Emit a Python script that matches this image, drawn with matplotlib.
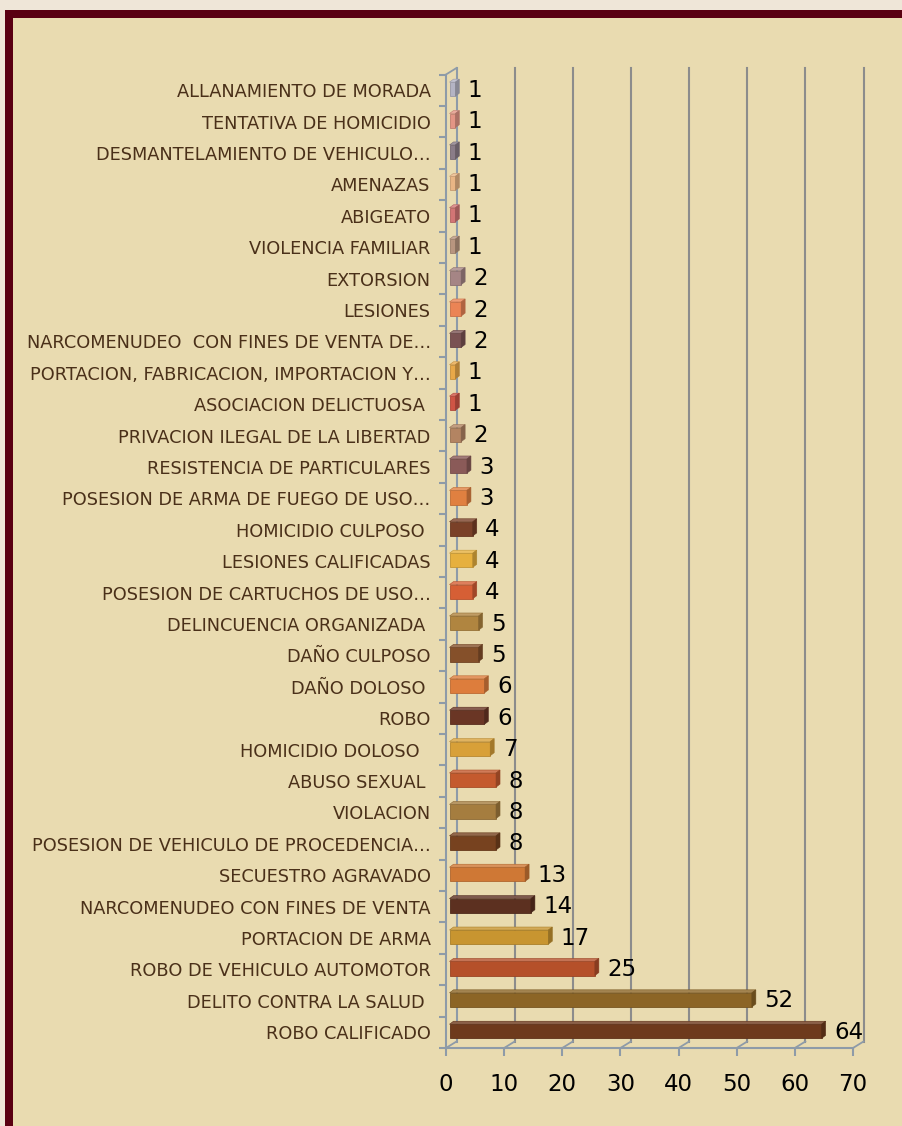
import matplotlib
matplotlib.use("Agg")
import matplotlib.pyplot as plt
from matplotlib.patches import Polygon, Rectangle
from matplotlib.lines import Line2D
import matplotlib.colors as mcolors

# ---------------- data (bottom -> top) ----------------
categories = [
    "ROBO CALIFICADO",
    "DELITO CONTRA LA SALUD ",
    "ROBO DE VEHICULO AUTOMOTOR",
    "PORTACION DE ARMA",
    "NARCOMENUDEO CON FINES DE VENTA",
    "SECUESTRO AGRAVADO",
    "POSESION DE VEHICULO DE PROCEDENCIA…",
    "VIOLACION",
    "ABUSO SEXUAL ",
    "HOMICIDIO DOLOSO  ",
    "ROBO",
    "DAÑO DOLOSO ",
    "DAÑO CULPOSO",
    "DELINCUENCIA ORGANIZADA ",
    "POSESION DE CARTUCHOS DE USO…",
    "LESIONES CALIFICADAS",
    "HOMICIDIO CULPOSO ",
    "POSESION DE ARMA DE FUEGO DE USO…",
    "RESISTENCIA DE PARTICULARES",
    "PRIVACION ILEGAL DE LA LIBERTAD",
    "ASOCIACION DELICTUOSA ",
    "PORTACION, FABRICACION, IMPORTACION Y…",
    "NARCOMENUDEO  CON FINES DE VENTA DE…",
    "LESIONES",
    "EXTORSION",
    "VIOLENCIA FAMILIAR",
    "ABIGEATO",
    "AMENAZAS",
    "DESMANTELAMIENTO DE VEHICULO…",
    "TENTATIVA DE HOMICIDIO",
    "ALLANAMIENTO DE MORADA",
]
values = [64, 52, 25, 17, 14, 13, 8, 8, 8, 7, 6, 6, 5, 5, 4, 4, 4, 3, 3, 2,
          1, 1, 2, 2, 2, 1, 1, 1, 1, 1, 1]
bar_colors = [
    "#6E3A1C", "#8C6526", "#B5502A", "#C89530", "#5C3020", "#CF7835",
    "#77421F", "#A57D3F", "#C45A2E", "#D8A038", "#6A3625", "#DD7D3C",
    "#85502A", "#B08540", "#D65F35", "#E6B03E", "#7A4128", "#E08040",
    "#8A5A58", "#B38462", "#CF5445", "#E8A848", "#7A5252", "#EB8455",
    "#A58585", "#B8957F", "#D27575", "#E9B585", "#8A7C88", "#E39585",
    "#B4B4C4",
]
x_ticks = [0, 10, 20, 30, 40, 50, 60, 70]

# ---------------- styling ----------------
BG_INNER = "#E9DBB0"
BG_OUTER = "#EFE6D8"
MAROON = "#5A0012"
GRID = "#8C8C8C"
AXIS = "#8E9BA8"
LABEL_COLOR = "#4A3019"

W, H, DPI = 902, 1126, 100
fig = plt.figure(figsize=(W / DPI, H / DPI), dpi=DPI, facecolor=BG_INNER)

# frame decoration (figure coordinates)
def fr(x, y, w, h, color):
    fig.patches.append(Rectangle((x / W, 1 - (y + h) / H), w / W, h / H,
                                 transform=fig.transFigure, color=color,
                                 zorder=0, linewidth=0))
fr(0, 0, W, 10, BG_OUTER)
fr(0, 0, 5, H, BG_OUTER)
fr(5, 10, W - 5, 8, MAROON)
fr(5, 10, 8, H - 10, MAROON)

# axes: front plane
ax_l, ax_r, ax_b, ax_t = 446, 853, 1048, 74.5
ax = fig.add_axes([ax_l / W, 1 - ax_b / H, (ax_r - ax_l) / W, (ax_b - ax_t) / H])
ax.set_facecolor("none")
n = len(categories)
ax.set_xlim(0, 70)
ax.set_ylim(-0.5, n - 0.5)

px_x = (ax_r - ax_l) / 70.0
px_y = (ax_b - ax_t) / n

def dxd(px):
    return px / px_x

def dyd(px):
    return px / px_y

# back wall offset
BX, BY = 10.5, 6.5
y0, y1 = -0.5, n - 0.5
for xv in x_ticks:
    col = AXIS if xv == 0 else GRID
    ax.add_line(Line2D([xv + dxd(BX)] * 2, [y0 + dyd(BY), y1 + dyd(BY)],
                       color=col, lw=1.5, zorder=1, clip_on=False))
    # floor diagonal
    ax.add_line(Line2D([xv, xv + dxd(BX)], [y0, y0 + dyd(BY)],
                       color=AXIS, lw=1.3, zorder=1, clip_on=False))
# top-left diagonal
ax.add_line(Line2D([0, dxd(BX)], [y1, y1 + dyd(BY)], color=AXIS, lw=1.3,
                   zorder=1, clip_on=False))

# bars (3D look)
FX, FY = 3.5, 1.0      # front face offset (px)
DX, DY = 4.0, 3.0      # bar depth (px)
hh = 0.45 / 2
for i, (v, c) in enumerate(zip(values, bar_colors)):
    base = mcolors.to_rgb(c)
    light = tuple(min(1, b + (1 - b) * 0.2) for b in base)
    dark = tuple(b * 0.75 for b in base)
    edge = tuple(b * 0.85 for b in base)
    xa = dxd(FX)
    xb = v + dxd(FX)
    yb = i - hh + dyd(FY)
    yt = i + hh + dyd(FY)
    ddx, ddy = dxd(DX), dyd(DY)
    front = Polygon([(xa, yb), (xb, yb), (xb, yt), (xa, yt)], closed=True,
                    facecolor=base, edgecolor=edge, lw=0.6, zorder=3, clip_on=False)
    top = Polygon([(xa, yt), (xb, yt), (xb + ddx, yt + ddy), (xa + ddx, yt + ddy)],
                  closed=True, facecolor=light, edgecolor=edge, lw=0.4, zorder=3,
                  clip_on=False)
    side = Polygon([(xb, yb), (xb, yt), (xb + ddx, yt + ddy), (xb + ddx, yb + ddy)],
                   closed=True, facecolor=dark, edgecolor=dark, lw=0.4, zorder=3,
                   clip_on=False)
    for p in (front, top, side):
        ax.add_patch(p)
    ax.text(v + dxd(FX + DX + 8.5), i, str(v), ha="left", va="center",
            fontsize=16.5, color="black", zorder=4, clip_on=False)

# axes lines / ticks
for s in ("top", "right"):
    ax.spines[s].set_visible(False)
for s in ("left", "bottom"):
    ax.spines[s].set_color(AXIS)
    ax.spines[s].set_linewidth(1.5)
    ax.spines[s].set_zorder(2)

ax.set_yticks(range(n))
ax.set_yticklabels(categories, fontsize=12.8, color=LABEL_COLOR)
ax.set_yticks([k - 0.5 for k in range(n + 1)], minor=True)
ax.tick_params(axis="y", which="major", length=0, pad=11)
ax.tick_params(axis="y", which="minor", length=5, width=1.5, color=AXIS)
ax.set_xticks(x_ticks)
ax.set_xticklabels([str(t) for t in x_ticks], fontsize=16.5, color="black")
ax.tick_params(axis="x", which="major", length=6, width=1.5, color=AXIS, pad=12)

fig.savefig("out.png", dpi=DPI, facecolor=BG_INNER)
